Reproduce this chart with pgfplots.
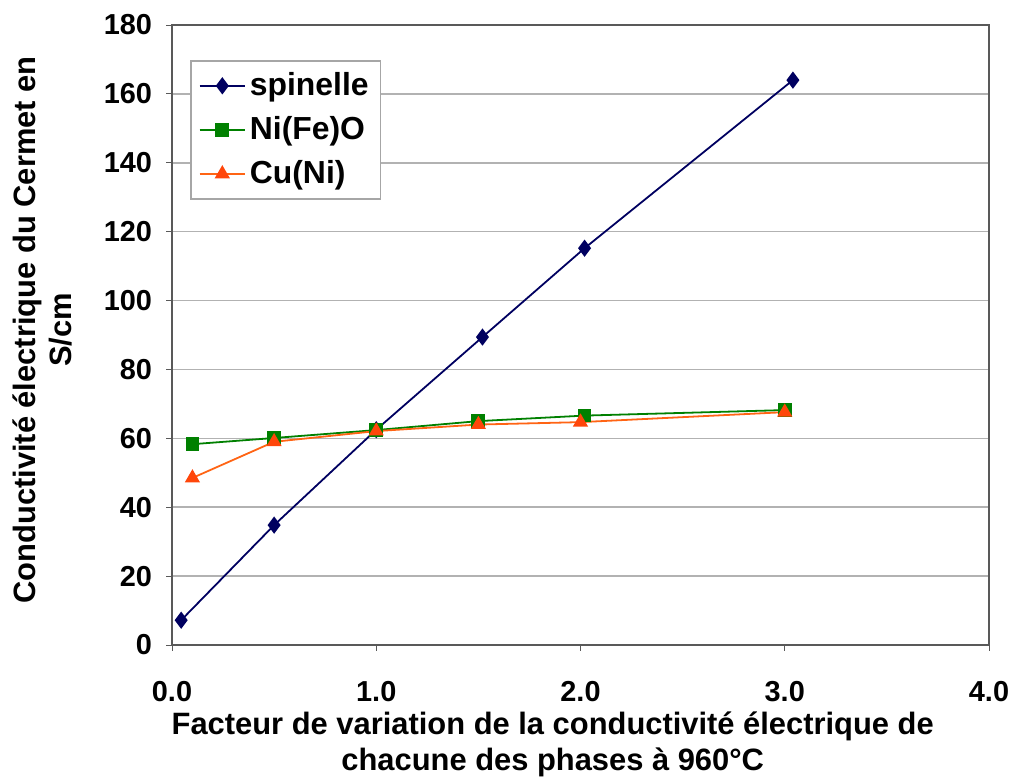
\documentclass[border=0pt]{standalone}
\usepackage{pgfplots}
\pgfplotsset{compat=1.18}
\usepackage{fontspec}
\setmainfont{Liberation Sans}
\definecolor{navy}{RGB}{0,0,96}
\definecolor{xlgreen}{RGB}{0,128,0}
\definecolor{xlorange}{RGB}{255,100,20}
\definecolor{xlred}{RGB}{255,70,10}

\begin{document}
\begin{tikzpicture}
\begin{axis}[
    scale only axis=true,
    width=408.5bp, height=310bp,
    xmin=0, xmax=4, ymin=0, ymax=180,
    xtick={0,1,2,3,4},
    ytick={0,20,...,180},
    xticklabel style={yshift=-11.5bp, /pgf/number format/fixed, /pgf/number format/fixed zerofill, /pgf/number format/precision=1},
    yticklabel style={xshift=-3.5bp},
    /pgf/number format/assume math mode=true,
    ticklabel style={font=\bfseries\fontsize{14.5}{16}\selectfont},
    tick align=outside, tick style={gray!70!black, thin},
    major tick length=3pt,
    xtick pos=bottom, ytick pos=left,
    ymajorgrids=true,
    grid style={gray!60, line width=0.8pt},
    axis line style={gray!70!black, line width=0.8pt},
    xlabel={Facteur de variation de la conductivité électrique de\\chacune des phases à 960°C},
    xlabel style={font=\bfseries\fontsize{15.5}{18}\selectfont, align=center,
        at={(axis description cs:0.466,-0.16)}, anchor=center},
    ylabel={Conductivité électrique du Cermet en\\S/cm},
    ylabel style={font=\bfseries\fontsize{15.5}{18}\selectfont, align=center,
        at={(axis description cs:-0.158,0.508)}, anchor=center},
    legend style={at={(0.022,0.9435)}, anchor=north west, draw=gray!70, line width=0.8pt,
        font=\bfseries\fontsize{16}{18}\selectfont, row sep=5pt, inner sep=4pt},
    legend cell align=left,
    legend image code/.code={\draw[mark repeat=2, mark phase=2] plot coordinates {(0cm,0cm) (0.4cm,0cm) (0.8cm,0cm)};},
]
\addplot[color=navy, line width=0.9pt, mark=diamond*, mark size=3.6pt, mark options={fill=navy}]
    coordinates {(0.045,7.2)(0.5,34.8)(1.0,62.5)(1.52,89.4)(2.02,115.2)(3.04,164)};
\addlegendentry{spinelle}
\addplot[color=xlgreen, line width=0.9pt, mark=square*, mark size=3pt, mark options={fill=xlgreen}]
    coordinates {(0.1,58.3)(0.5,60.1)(1.0,62.4)(1.5,65.0)(2.02,66.6)(3.0,68.2)};
\addlegendentry{Ni(Fe)O}
\addplot[color=xlorange, line width=0.9pt, mark=triangle*, mark size=3.5pt, mark options={fill=xlred, draw=xlred}]
    coordinates {(0.1,48.5)(0.5,59.0)(1.0,62.1)(1.5,64.0)(2.0,64.7)(3.0,67.6)};
\addlegendentry{Cu(Ni)}
\end{axis}
\pgfresetboundingbox
\path ([shift={(-86bp,-66bp)}]current axis.south west) rectangle ([shift={(12.5bp,12.5bp)}]current axis.north east);
\end{tikzpicture}
\end{document}
